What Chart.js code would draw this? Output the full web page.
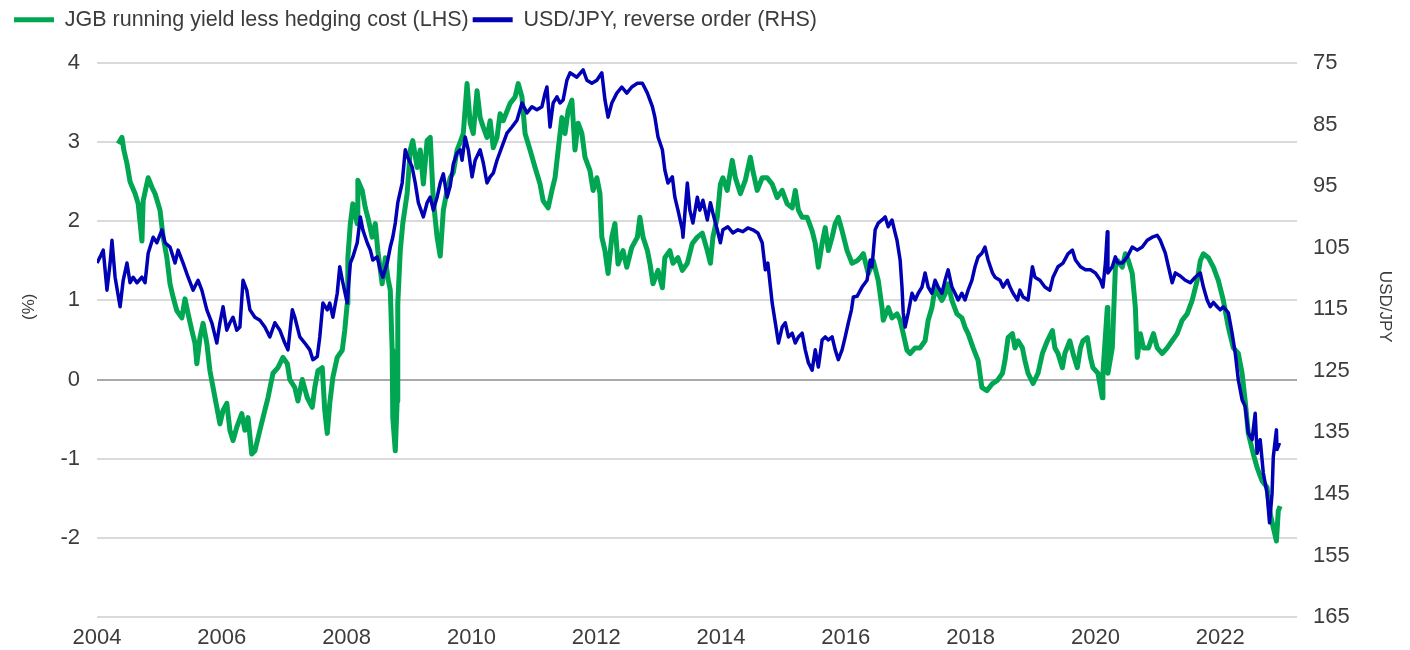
<!DOCTYPE html>
<html>
<head>
<meta charset="utf-8">
<script src="https://cdn.jsdelivr.net/npm/chart.js@4.4.1/dist/chart.umd.min.js"></script>
<style>
html,body{margin:0;padding:0;background:#ffffff;}
#wrap{width:1410px;height:650px;position:relative;}
</style>
</head>
<body>
<div id="wrap"><canvas id="c" width="1410" height="650"></canvas></div>
<script>
// ---------- DATA ----------
const seriesLabels = ['JGB running yield less hedging cost (LHS)', 'USD/JPY, reverse order (RHS)'];
const leftAxisTitle = '(%)';
const rightAxisTitle = 'USD/JPY';
const xTickYears = [2004, 2006, 2008, 2010, 2012, 2014, 2016, 2018, 2020, 2022];
const leftTicks = [-3, -2, -1, 0, 1, 2, 3, 4];
const rightTicks = [75, 85, 95, 105, 115, 125, 135, 145, 155, 165];

// [decimal year, %]
const jgbSpread = [[2004.34,2.98],[2004.40,3.06],[2004.43,2.90],[2004.48,2.73],[2004.53,2.50],[2004.61,2.35],[2004.66,2.22],[2004.72,1.75],[2004.74,2.26],[2004.82,2.55],[2004.88,2.43],[2004.93,2.35],[2005.01,2.14],[2005.06,1.80],[2005.12,1.54],[2005.17,1.21],[2005.22,1.04],[2005.28,0.87],[2005.36,0.78],[2005.41,1.02],[2005.46,0.83],[2005.52,0.62],[2005.57,0.46],[2005.60,0.20],[2005.65,0.53],[2005.70,0.71],[2005.76,0.46],[2005.81,0.11],[2005.86,-0.10],[2005.92,-0.35],[2005.97,-0.56],[2006.02,-0.39],[2006.08,-0.30],[2006.13,-0.64],[2006.18,-0.77],[2006.24,-0.60],[2006.32,-0.43],[2006.37,-0.64],[2006.42,-0.48],[2006.48,-0.94],[2006.53,-0.90],[2006.61,-0.64],[2006.66,-0.48],[2006.74,-0.23],[2006.82,0.08],[2006.90,0.15],[2006.98,0.28],[2007.05,0.20],[2007.09,0.00],[2007.17,-0.10],[2007.22,-0.27],[2007.29,0.00],[2007.37,-0.23],[2007.45,-0.35],[2007.49,-0.10],[2007.54,0.11],[2007.61,0.15],[2007.65,-0.39],[2007.69,-0.68],[2007.73,-0.30],[2007.78,0.03],[2007.85,0.28],[2007.93,0.37],[2007.97,0.62],[2008.01,0.96],[2008.02,1.54],[2008.06,1.97],[2008.10,2.22],[2008.17,1.97],[2008.18,2.52],[2008.25,2.39],[2008.30,2.17],[2008.34,2.05],[2008.41,1.80],[2008.46,1.97],[2008.50,1.63],[2008.57,1.21],[2008.62,1.54],[2008.66,1.29],[2008.70,1.13],[2008.73,0.37],[2008.74,-0.48],[2008.78,-0.90],[2008.81,-0.27],[2008.82,0.96],[2008.86,1.63],[2008.90,1.97],[2008.97,2.35],[2009.02,2.90],[2009.06,3.02],[2009.13,2.68],[2009.18,2.90],[2009.23,2.47],[2009.29,3.02],[2009.34,3.06],[2009.39,2.26],[2009.45,1.80],[2009.50,1.56],[2009.55,2.14],[2009.61,2.39],[2009.66,2.55],[2009.71,2.62],[2009.77,2.90],[2009.82,3.00],[2009.87,3.11],[2009.93,3.74],[2009.98,3.24],[2010.03,3.11],[2010.09,3.65],[2010.14,3.31],[2010.19,3.19],[2010.25,3.06],[2010.30,3.27],[2010.35,2.93],[2010.41,3.06],[2010.46,3.36],[2010.51,3.27],[2010.62,3.49],[2010.70,3.57],[2010.75,3.74],[2010.81,3.57],[2010.86,3.11],[2010.94,2.90],[2011.02,2.68],[2011.10,2.47],[2011.15,2.26],[2011.23,2.17],[2011.29,2.39],[2011.34,2.55],[2011.39,2.90],[2011.45,3.31],[2011.50,3.11],[2011.55,3.40],[2011.61,3.53],[2011.66,2.90],[2011.71,3.24],[2011.77,3.11],[2011.82,2.81],[2011.90,2.64],[2011.95,2.39],[2012.01,2.55],[2012.06,2.35],[2012.09,1.80],[2012.14,1.63],[2012.19,1.34],[2012.25,1.80],[2012.30,1.97],[2012.35,1.46],[2012.43,1.63],[2012.49,1.42],[2012.57,1.67],[2012.66,1.80],[2012.70,2.05],[2012.75,1.80],[2012.82,1.63],[2012.86,1.47],[2012.91,1.21],[2012.99,1.38],[2013.06,1.16],[2013.10,1.54],[2013.18,1.63],[2013.23,1.47],[2013.31,1.54],[2013.38,1.38],[2013.46,1.47],[2013.54,1.72],[2013.62,1.80],[2013.70,1.85],[2013.78,1.63],[2013.83,1.47],[2013.87,1.80],[2013.94,2.05],[2013.99,2.47],[2014.03,2.55],[2014.10,2.39],[2014.18,2.77],[2014.23,2.55],[2014.31,2.35],[2014.39,2.52],[2014.47,2.81],[2014.51,2.64],[2014.58,2.39],[2014.66,2.55],[2014.74,2.55],[2014.82,2.47],[2014.90,2.30],[2014.98,2.39],[2015.06,2.22],[2015.14,2.17],[2015.19,2.39],[2015.24,2.14],[2015.30,2.05],[2015.38,2.05],[2015.46,1.88],[2015.51,1.72],[2015.56,1.42],[2015.62,1.72],[2015.67,1.92],[2015.72,1.63],[2015.78,1.80],[2015.83,1.97],[2015.88,2.05],[2015.94,1.88],[2016.02,1.63],[2016.10,1.47],[2016.18,1.50],[2016.23,1.54],[2016.28,1.59],[2016.36,1.34],[2016.44,1.50],[2016.52,1.25],[2016.58,0.91],[2016.60,0.75],[2016.68,0.91],[2016.74,0.78],[2016.82,0.83],[2016.87,0.75],[2016.92,0.58],[2016.98,0.37],[2017.03,0.33],[2017.11,0.40],[2017.19,0.40],[2017.27,0.49],[2017.32,0.75],[2017.38,0.91],[2017.43,1.16],[2017.48,1.08],[2017.54,1.00],[2017.59,1.08],[2017.64,1.21],[2017.70,1.00],[2017.78,0.83],[2017.86,0.78],[2017.91,0.66],[2017.96,0.58],[2018.04,0.40],[2018.12,0.24],[2018.18,-0.10],[2018.26,-0.14],[2018.35,-0.05],[2018.43,-0.01],[2018.51,0.08],[2018.55,0.24],[2018.60,0.53],[2018.67,0.58],[2018.71,0.40],[2018.76,0.49],[2018.83,0.40],[2018.87,0.24],[2018.92,0.08],[2019.00,-0.05],[2019.08,0.08],[2019.15,0.33],[2019.23,0.49],[2019.31,0.62],[2019.35,0.40],[2019.40,0.33],[2019.47,0.15],[2019.51,0.33],[2019.59,0.49],[2019.64,0.33],[2019.71,0.15],[2019.76,0.40],[2019.80,0.49],[2019.87,0.53],[2019.92,0.28],[2019.96,0.15],[2020.04,0.08],[2020.11,-0.23],[2020.12,0.08],[2020.19,0.91],[2020.20,0.08],[2020.27,0.40],[2020.32,1.42],[2020.36,1.50],[2020.43,1.42],[2020.48,1.59],[2020.53,1.50],[2020.59,1.34],[2020.64,0.91],[2020.67,0.28],[2020.72,0.58],[2020.77,0.40],[2020.85,0.40],[2020.93,0.58],[2020.99,0.40],[2021.07,0.33],[2021.15,0.40],[2021.23,0.49],[2021.31,0.58],[2021.39,0.75],[2021.47,0.83],[2021.55,1.00],[2021.63,1.25],[2021.68,1.50],[2021.73,1.59],[2021.81,1.54],[2021.89,1.42],[2021.97,1.25],[2022.05,1.00],[2022.13,0.66],[2022.21,0.40],[2022.29,0.33],[2022.35,0.08],[2022.40,-0.27],[2022.45,-0.68],[2022.53,-0.94],[2022.59,-1.11],[2022.67,-1.28],[2022.75,-1.36],[2022.80,-1.69],[2022.85,-1.87],[2022.90,-2.04],[2022.93,-1.66],[2022.96,-1.60]];

// [decimal year, yen per dollar]
const usdJpy = [[2004.00,107.5],[2004.05,106.5],[2004.10,105.4],[2004.16,111.9],[2004.21,107.5],[2004.24,103.8],[2004.29,109.8],[2004.37,114.6],[2004.42,110.3],[2004.48,107.5],[2004.53,110.7],[2004.58,109.8],[2004.64,110.7],[2004.72,109.8],[2004.77,110.7],[2004.82,105.9],[2004.90,103.3],[2004.96,104.2],[2005.04,102.1],[2005.09,104.2],[2005.17,104.9],[2005.25,107.5],[2005.30,105.4],[2005.38,107.5],[2005.46,109.8],[2005.54,111.9],[2005.62,110.3],[2005.68,111.9],[2005.76,115.1],[2005.84,117.2],[2005.92,120.5],[2005.97,117.2],[2006.02,114.6],[2006.08,118.4],[2006.13,117.2],[2006.18,116.3],[2006.24,118.4],[2006.29,117.9],[2006.34,110.3],[2006.40,111.9],[2006.45,115.1],[2006.53,116.3],[2006.61,116.8],[2006.69,117.9],[2006.77,119.5],[2006.85,117.2],[2006.93,118.4],[2007.01,120.5],[2007.06,121.6],[2007.13,115.1],[2007.17,116.3],[2007.25,119.5],[2007.33,120.5],[2007.41,121.6],[2007.46,123.2],[2007.53,122.7],[2007.57,119.5],[2007.62,114.0],[2007.69,115.1],[2007.73,114.0],[2007.78,116.3],[2007.85,112.4],[2007.89,108.1],[2007.94,110.7],[2008.01,114.0],[2008.06,107.5],[2008.10,106.5],[2008.17,104.2],[2008.22,100.0],[2008.26,102.1],[2008.33,104.2],[2008.38,105.4],[2008.42,107.0],[2008.49,106.5],[2008.54,108.6],[2008.58,109.8],[2008.65,107.5],[2008.70,104.9],[2008.74,103.3],[2008.78,101.0],[2008.82,97.7],[2008.89,94.5],[2008.94,89.1],[2008.98,90.3],[2009.05,91.9],[2009.10,94.5],[2009.15,97.7],[2009.23,100.0],[2009.29,97.7],[2009.34,96.8],[2009.39,98.9],[2009.45,96.8],[2009.50,94.5],[2009.55,93.0],[2009.61,96.8],[2009.66,95.0],[2009.71,91.4],[2009.77,89.6],[2009.82,89.1],[2009.85,90.8],[2009.90,87.0],[2009.95,89.1],[2010.01,93.5],[2010.06,90.8],[2010.14,89.1],[2010.19,91.2],[2010.25,94.5],[2010.30,93.5],[2010.35,92.9],[2010.41,90.8],[2010.49,88.6],[2010.57,86.4],[2010.65,85.4],[2010.73,84.3],[2010.81,81.5],[2010.89,83.1],[2010.97,82.1],[2011.05,82.6],[2011.13,82.1],[2011.18,79.9],[2011.21,78.9],[2011.26,85.4],[2011.31,81.5],[2011.37,80.5],[2011.42,81.5],[2011.47,81.0],[2011.53,77.8],[2011.58,76.6],[2011.69,77.3],[2011.79,76.1],[2011.85,77.8],[2011.93,78.3],[2012.01,77.8],[2012.09,76.6],[2012.14,81.0],[2012.19,83.8],[2012.25,81.5],[2012.33,79.9],[2012.41,78.9],[2012.49,79.9],[2012.57,78.9],[2012.66,78.3],[2012.74,78.3],[2012.82,79.9],[2012.90,82.1],[2012.94,83.8],[2012.99,87.0],[2013.06,89.1],[2013.10,92.4],[2013.15,94.5],[2013.22,93.5],[2013.26,96.8],[2013.31,98.9],[2013.38,102.1],[2013.39,103.3],[2013.46,94.5],[2013.50,98.9],[2013.55,101.0],[2013.62,96.8],[2013.66,98.9],[2013.71,97.3],[2013.78,100.5],[2013.83,97.7],[2013.87,99.4],[2013.94,102.1],[2013.99,104.2],[2014.03,102.1],[2014.11,101.6],[2014.19,102.6],[2014.27,102.1],[2014.35,102.4],[2014.43,101.8],[2014.51,102.1],[2014.59,102.6],[2014.66,104.2],[2014.71,108.6],[2014.75,107.5],[2014.82,114.0],[2014.87,117.2],[2014.92,120.5],[2014.98,117.9],[2015.03,117.2],[2015.08,119.5],[2015.14,118.9],[2015.19,120.5],[2015.24,119.5],[2015.30,118.9],[2015.35,121.6],[2015.40,123.7],[2015.46,124.9],[2015.51,121.6],[2015.56,124.4],[2015.62,120.0],[2015.67,119.5],[2015.72,120.0],[2015.78,119.5],[2015.83,121.6],[2015.88,123.2],[2015.94,121.6],[2015.99,119.5],[2016.04,117.2],[2016.09,115.1],[2016.12,113.0],[2016.18,112.9],[2016.26,111.4],[2016.34,110.3],[2016.39,107.0],[2016.42,108.1],[2016.47,102.1],[2016.52,101.0],[2016.58,100.5],[2016.63,100.0],[2016.68,101.6],[2016.74,100.5],[2016.79,102.6],[2016.82,103.8],[2016.87,107.0],[2016.90,111.4],[2016.92,115.6],[2016.95,117.9],[2017.00,115.6],[2017.06,112.4],[2017.11,113.5],[2017.16,112.4],[2017.22,111.4],[2017.27,109.1],[2017.32,111.4],[2017.38,112.4],[2017.43,110.3],[2017.48,111.4],[2017.54,112.4],[2017.59,110.3],[2017.64,108.6],[2017.70,111.4],[2017.75,112.4],[2017.80,113.5],[2017.86,112.4],[2017.91,113.5],[2017.96,111.9],[2018.02,110.3],[2018.07,108.1],[2018.12,106.5],[2018.18,105.9],[2018.23,104.9],[2018.28,107.0],[2018.35,109.1],[2018.39,109.8],[2018.47,110.3],[2018.52,111.4],[2018.59,110.3],[2018.63,111.4],[2018.68,112.4],[2018.75,113.5],[2018.79,111.9],[2018.84,113.0],[2018.92,113.5],[2018.99,108.1],[2019.03,109.8],[2019.11,110.3],[2019.19,111.4],[2019.27,111.9],[2019.32,109.8],[2019.40,108.1],[2019.48,107.5],[2019.56,106.0],[2019.63,105.4],[2019.68,107.0],[2019.76,108.1],[2019.84,108.6],[2019.92,108.6],[2020.00,109.1],[2020.08,110.3],[2020.12,111.4],[2020.16,107.5],[2020.19,102.4],[2020.20,109.1],[2020.27,108.1],[2020.32,106.5],[2020.36,107.5],[2020.43,107.5],[2020.51,106.5],[2020.59,104.9],[2020.67,105.4],[2020.75,104.9],[2020.83,103.8],[2020.91,103.3],[2020.99,103.0],[2021.04,103.8],[2021.12,105.9],[2021.17,108.1],[2021.23,110.7],[2021.28,109.1],[2021.36,109.6],[2021.44,110.3],[2021.52,110.7],[2021.60,109.8],[2021.68,109.1],[2021.73,111.4],[2021.79,113.5],[2021.84,114.6],[2021.89,113.9],[2021.95,114.6],[2022.00,115.1],[2022.05,114.6],[2022.13,115.6],[2022.19,118.9],[2022.24,122.1],[2022.29,126.5],[2022.35,129.7],[2022.40,130.8],[2022.45,135.1],[2022.51,136.2],[2022.56,131.9],[2022.59,138.4],[2022.64,136.2],[2022.69,141.6],[2022.75,144.9],[2022.79,149.7],[2022.83,145.0],[2022.85,139.0],[2022.90,134.6],[2022.91,137.8],[2022.95,136.7]];

// ---------- STYLE ----------
const FONT = "'Liberation Sans', Arial, sans-serif";
const TEXT_COLOR = '#3c3c3c';
const GREEN = '#00a651';
const BLUE = '#0000b4';
const TICK_SIZE = 22;
const LEGEND_SIZE = 21.5;
const TITLE_SIZE = 17;

Chart.defaults.font.family = FONT;
Chart.defaults.color = TEXT_COLOR;

const legendBandPlugin = {
  id: 'legendBand',
  beforeUpdate(chart) {
    const lg = chart.legend;
    if (lg && !lg._bandPatched) {
      const fit = lg.fit;
      lg.fit = function () { fit.call(this); this.height = 58; };
      lg._bandPatched = true;
    }
  }
};

const axisTitlePlugin = {
  id: 'axisTitles',
  afterDraw(chart) {
    const {ctx, chartArea} = chart;
    const yMid = chartArea.top + (chartArea.bottom - chartArea.top) * 0.44;
    ctx.save();
    ctx.font = TITLE_SIZE + 'px ' + FONT;
    ctx.fillStyle = TEXT_COLOR;
    ctx.textAlign = 'center';
    ctx.textBaseline = 'middle';
    ctx.save();
    ctx.translate(chart.scales.y.left + 19, yMid);
    ctx.rotate(-Math.PI / 2);
    ctx.fillText(leftAxisTitle, 0, 0);
    ctx.restore();
    ctx.save();
    ctx.translate(chart.scales.y2.right - 25, yMid);
    ctx.rotate(Math.PI / 2);
    ctx.fillText(rightAxisTitle, 0, 0);
    ctx.restore();
    ctx.restore();
  }
};

new Chart(document.getElementById('c'), {
  type: 'line',
  data: {
    datasets: [
      {
        label: seriesLabels[0],
        data: jgbSpread.map(([x, y]) => ({x, y})),
        yAxisID: 'y',
        borderColor: GREEN,
        backgroundColor: GREEN,
        borderWidth: 5,
        borderJoinStyle: 'round',
        pointRadius: 0,
        tension: 0,
        order: 2
      },
      {
        label: seriesLabels[1],
        data: usdJpy.map(([x, y]) => ({x, y})),
        yAxisID: 'y2',
        borderColor: BLUE,
        backgroundColor: BLUE,
        borderWidth: 3.5,
        borderJoinStyle: 'round',
        pointRadius: 0,
        tension: 0,
        order: 1
      }
    ]
  },
  options: {
    responsive: false,
    animation: false,
    devicePixelRatio: 1,
    events: [],
    layout: {padding: {left: 10, top: 5, right: 0, bottom: 0}},
    plugins: {
      tooltip: {enabled: false},
      legend: {
        display: true,
        position: 'top',
        align: 'start',
        labels: {
          boxWidth: 40,
          boxHeight: 5,
          padding: 4,
          color: TEXT_COLOR,
          font: {size: LEGEND_SIZE},
          sort: (a, b) => a.datasetIndex - b.datasetIndex,
          generateLabels(chart) {
            const items = Chart.defaults.plugins.legend.labels.generateLabels(chart);
            items.forEach(it => { it.lineWidth = 0; it.fillStyle = it.strokeStyle; });
            return items;
          }
        }
      }
    },
    scales: {
      x: {
        type: 'linear',
        min: 2004,
        max: 2023.23,
        grid: {display: false, drawTicks: false},
        border: {display: false},
        ticks: {
          font: {size: TICK_SIZE},
          color: TEXT_COLOR,
          padding: 8,
          maxRotation: 0,
          autoSkip: false,
          callback: v => String(v)
        },
        afterBuildTicks: s => { s.ticks = xTickYears.map(v => ({value: v})); },
        afterFit: s => { s.height = 33; }
      },
      y: {
        position: 'left',
        min: leftTicks[0],
        max: leftTicks[leftTicks.length - 1],
        ticks: {
          stepSize: 1,
          padding: 17,
          font: {size: TICK_SIZE},
          color: TEXT_COLOR,
          callback: v => (v === leftTicks[0] ? '' : String(v))
        },
        grid: {
          drawTicks: false,
          lineWidth: 2,
          color: c => (c.tick && c.tick.value === 0 ? '#a9a9a9' : '#dadada')
        },
        border: {display: false},
        afterFit: s => { s.width = 87; }
      },
      y2: {
        position: 'right',
        reverse: true,
        min: rightTicks[0],
        max: rightTicks[rightTicks.length - 1],
        ticks: {
          stepSize: 10,
          padding: 16,
          font: {size: TICK_SIZE},
          color: TEXT_COLOR,
          callback: v => String(v)
        },
        grid: {display: false, drawTicks: false},
        border: {display: false},
        afterFit: s => { s.width = 113; }
      }
    }
  },
  plugins: [legendBandPlugin, axisTitlePlugin]
});
</script>
</body>
</html>
